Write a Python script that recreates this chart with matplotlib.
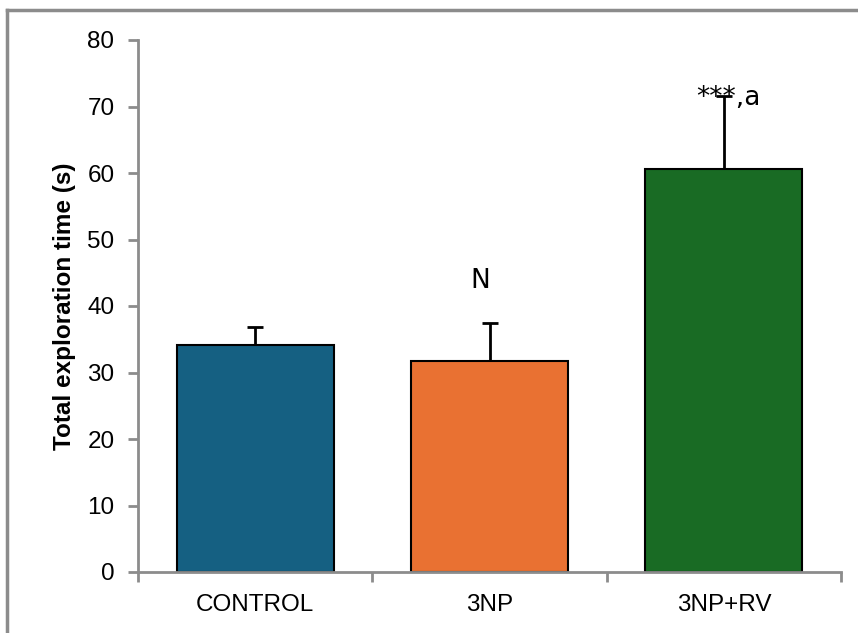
import matplotlib
matplotlib.use("Agg")
import matplotlib.pyplot as plt
from matplotlib.lines import Line2D
import numpy as np

categories = ["CONTROL", "3NP", "3NP+RV"]
means = [34.1, 31.8, 60.6]
errors = [2.8, 5.7, 11.0]
colors = ["#156082", "#E97132", "#196B24"]
annotations = ["", "N", "***,a"]
yticks = [0, 10, 20, 30, 40, 50, 60, 70, 80]

plt.rcParams['font.family'] = ['Liberation Sans', 'DejaVu Sans']

W, H = 858, 633
fig = plt.figure(figsize=(W / 100, H / 100), dpi=100)
ax = fig.add_axes([138 / W, 1 - 572 / H, (841 - 138) / W, (572 - 40) / H])

x = np.arange(len(categories))
ax.bar(x, means, width=0.67, color=colors, edgecolor="black", linewidth=1.5, zorder=2)
eb = ax.errorbar(x, means, yerr=[np.zeros(len(errors)), errors], fmt="none",
                 ecolor="black", elinewidth=2, capsize=6, capthick=2, zorder=3)
# hide lower caps (errors drawn upward only)
caplines = eb[1]
if len(caplines) >= 2:
    caplines[0].set_visible(False)

ax.set_xlim(-0.5, len(categories) - 0.5)
ax.set_ylim(0, 80)
ax.set_yticks(yticks)
ax.tick_params(axis="y", labelsize=17.5, length=7, width=2, color="#8c8c8c", pad=10)
ax.set_xticks(x)
ax.set_xticklabels(categories, fontsize=17.5)
ax.tick_params(axis="x", which="major", length=0, pad=16)
ax.set_xticks(np.arange(-0.5, len(categories)), minor=True)
ax.tick_params(axis="x", which="minor", length=7, width=2, color="#8c8c8c")

for s in ["top", "right"]:
    ax.spines[s].set_visible(False)
for s in ["left", "bottom"]:
    ax.spines[s].set_color("#8c8c8c")
    ax.spines[s].set_linewidth(2)

ax.set_ylabel("Total exploration time (s)", fontsize=17.5, fontweight="bold", labelpad=8)

ax.text(0.96, 42.7, annotations[1], ha="center", va="baseline", fontsize=19,
        family=["DejaVu Sans"])
ax.text(2.02, 70.3, annotations[2], ha="center", va="baseline", fontsize=19,
        family=["DejaVu Sans"])

# outer frame (top and left edges visible)
fig.add_artist(Line2D([7 / W, 1.0], [1 - 10 / H, 1 - 10 / H], color="#8c8c8c", lw=2.5,
                      transform=fig.transFigure))
fig.add_artist(Line2D([7 / W, 7 / W], [0, 1 - 10 / H], color="#8c8c8c", lw=2.5,
                      transform=fig.transFigure))

fig.savefig("out.png", dpi=100)
